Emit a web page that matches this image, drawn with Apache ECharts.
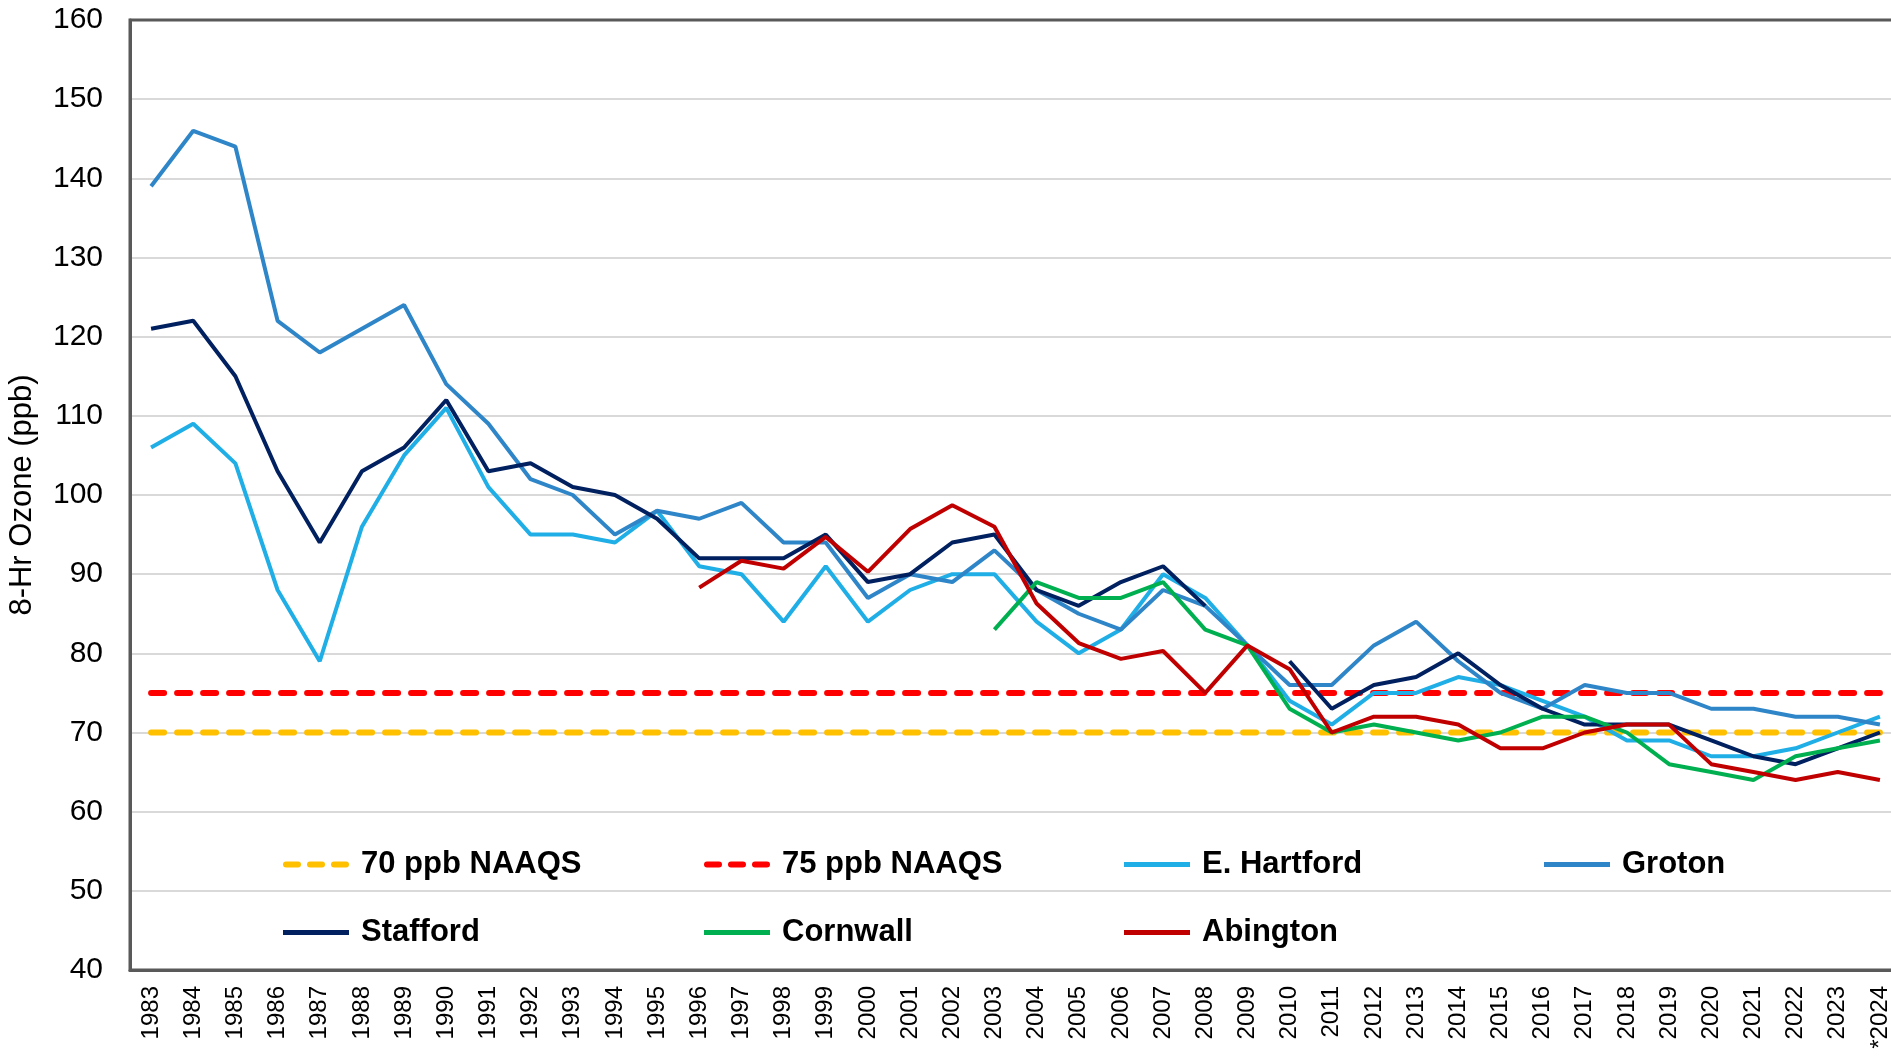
<!DOCTYPE html>
<html>
<head>
<meta charset="utf-8">
<title>8-Hr Ozone</title>
<script src="https://cdn.jsdelivr.net/npm/echarts@6/dist/echarts.min.js"></script>
<style>
  html, body { margin: 0; padding: 0; background: #fff; }
  #main { width: 1891px; height: 1057px; }
</style>
</head>
<body>
<div id="main"></div>
<script>
// categories (x axis)
const years = ['1983', '1984', '1985', '1986', '1987', '1988', '1989', '1990', '1991', '1992',
  '1993', '1994', '1995', '1996', '1997', '1998', '1999', '2000', '2001', '2002',
  '2003', '2004', '2005', '2006', '2007', '2008', '2009', '2010', '2011', '2012',
  '2013', '2014', '2015', '2016', '2017', '2018', '2019', '2020', '2021', '2022',
  '2023', '*2024']

// standards
const naaqs70 = [70, 70, 70, 70, 70, 70, 70, 70, 70, 70, 70, 70, 70, 70, 70, 70, 70, 70, 70, 70, 70,
  70, 70, 70, 70, 70, 70, 70, 70, 70, 70, 70, 70, 70, 70, 70, 70, 70, 70, 70, 70, 70]
const naaqs75 = [75, 75, 75, 75, 75, 75, 75, 75, 75, 75, 75, 75, 75, 75, 75, 75, 75, 75, 75, 75, 75,
  75, 75, 75, 75, 75, 75, 75, 75, 75, 75, 75, 75, 75, 75, 75, 75, 75, 75, 75, 75, 75]

// monitor sites (ppb)
const eHartford = [106, 109, 104, 88, 79, 96, 105, 111, 101, 95,
  95, 94, 98, 91, 90, 84, 91, 84, 88, 90,
  90, 84, 80, 83, 90, 87, 81, 74, 71, 75,
  75, 77, 76, 74, 72, 69, 69, 67, 67, 68,
  70, 72]
const groton = [139, 146, 144, 122, 118, 121, 124, 114, 109, 102,
  100, 95, 98, 97, 99, 94, 94, 87, 90, 89,
  93, 88, 85, 83, 88, 86, 81, 76, 76, 81,
  84, 79, 75, 73, 76, 75, 75, 73, 73, 72,
  72, 71]
const stafford = [121, 122, 115, 103, 94, 103, 106, 112, 103, 104,
  101, 100, 97, 92, 92, 92, 95, 89, 90, 94,
  95, 88, 86, 89, 91, 86, null, 79, 73, 76,
  77, 80, 76, 73, 71, 71, 71, 69, 67, 66,
  68, 70]
const cornwall = [null, null, null, null, null, null, null, null, null, null,
  null, null, null, null, null, null, null, null, null, null,
  83, 89, 87, 87, 89, 83, 81, 73, 70, 71,
  70, 69, 70, 72, 72, 70, 66, 65, 64, 67,
  68, 69]
const abington = [null, null, null, null, null, null, null, null, null, null,
  null, null, null, 88.3, 91.7, 90.7, 94.7, 90.3, 95.7, 98.7,
  96, 86.3, 81.3, 79.3, 80.3, 75, 81, 78, 70, 72,
  72, 71, 68, 68, 70, 71, 71, 66, 65, 64,
  65, 64]

const FONT = 'Liberation Sans, Arial, sans-serif'
// legend keys: a plain bar for the sites, three dashes for the standards
const SOLID_ICON = 'rect'
const DASH_ICON = 'path://M3,0h12a3,3 0 0 1 0,6h-12a3,3 0 0 1 0,-6z M27,0h12a3,3 0 0 1 0,6h-12a3,3 0 0 1 0,-6z M51,0h12a3,3 0 0 1 0,6h-12a3,3 0 0 1 0,-6z'

const chartDom = document.getElementById('main')
const myChart = echarts.init(chartDom)

function solid(name, data, color) {
  return {
    name: name,
    type: 'line',
    data: data,
    symbol: 'none',
    lineStyle: { color: color, width: 4 },
    itemStyle: { color: color },
    emphasis: { disabled: true },
    animation: false
  }
}

function dashed(name, data, color) {
  return {
    name: name,
    type: 'line',
    data: data,
    symbol: 'none',
    lineStyle: { color: color, width: 6, type: [13, 13], cap: 'round' },
    itemStyle: { color: color },
    emphasis: { disabled: true },
    animation: false
  }
}

// one legend per slot, so the columns line up like the original
function legendAt(name, icon, h, left, top) {
  return {
    data: [{ name: name, icon: icon }],
    left: left,
    top: top,
    padding: 0,
    itemWidth: 66,
    itemHeight: h,
    selectedMode: false,
    textStyle: { fontFamily: FONT, fontSize: 31, fontWeight: 'bold', color: '#000', padding: [0, 0, 0, 7] }
  }
}

const option = {
  backgroundColor: '#fff',
  grid: {
    left: 130,
    width: 1771,
    top: 20,
    bottom: 87,
    outerBoundsMode: 'none',
    show: true,
    borderColor: '#595959',
    borderWidth: 3
  },
  legend: [
    legendAt('70 ppb NAAQS', DASH_ICON, 6, 283, 849),
    legendAt('75 ppb NAAQS', DASH_ICON, 6, 704, 849),
    legendAt('E. Hartford', SOLID_ICON, 5, 1124, 849),
    legendAt('Groton', SOLID_ICON, 5, 1544, 849),
    legendAt('Stafford', SOLID_ICON, 5, 283, 917),
    legendAt('Cornwall', SOLID_ICON, 5, 704, 917),
    legendAt('Abington', SOLID_ICON, 5, 1124, 917)
  ],
  xAxis: {
    type: 'category',
    data: years,
    boundaryGap: true,
    axisLine: { lineStyle: { color: '#595959', width: 3 } },
    axisTick: { show: false },
    axisLabel: {
      rotate: 90,
      margin: 16,
      interval: 0,
      fontFamily: FONT,
      fontSize: 24,
      color: '#000'
    }
  },
  yAxis: {
    type: 'value',
    min: 40,
    max: 160,
    interval: 10,
    name: '8-Hr Ozone (ppb)',
    nameLocation: 'middle',
    nameGap: 92,
    nameTextStyle: { fontFamily: FONT, fontSize: 31, color: '#000' },
    axisLine: { show: true, lineStyle: { color: '#595959', width: 3 } },
    axisTick: { show: false },
    axisLabel: { margin: 27, fontFamily: FONT, fontSize: 30, color: '#000' },
    splitLine: { showMinLine: false, showMaxLine: false, lineStyle: { color: '#D9D9D9', width: 2 } }
  },
  series: [
    dashed('70 ppb NAAQS', naaqs70, '#FFC000'),
    dashed('75 ppb NAAQS', naaqs75, '#FF0000'),
    solid('E. Hartford', eHartford, '#1FAEE6'),
    solid('Groton', groton, '#2E86C8'),
    solid('Stafford', stafford, '#002060'),
    solid('Cornwall', cornwall, '#00B050'),
    solid('Abington', abington, '#C00000')
  ]
}

option && myChart.setOption(option)
</script>
</body>
</html>
